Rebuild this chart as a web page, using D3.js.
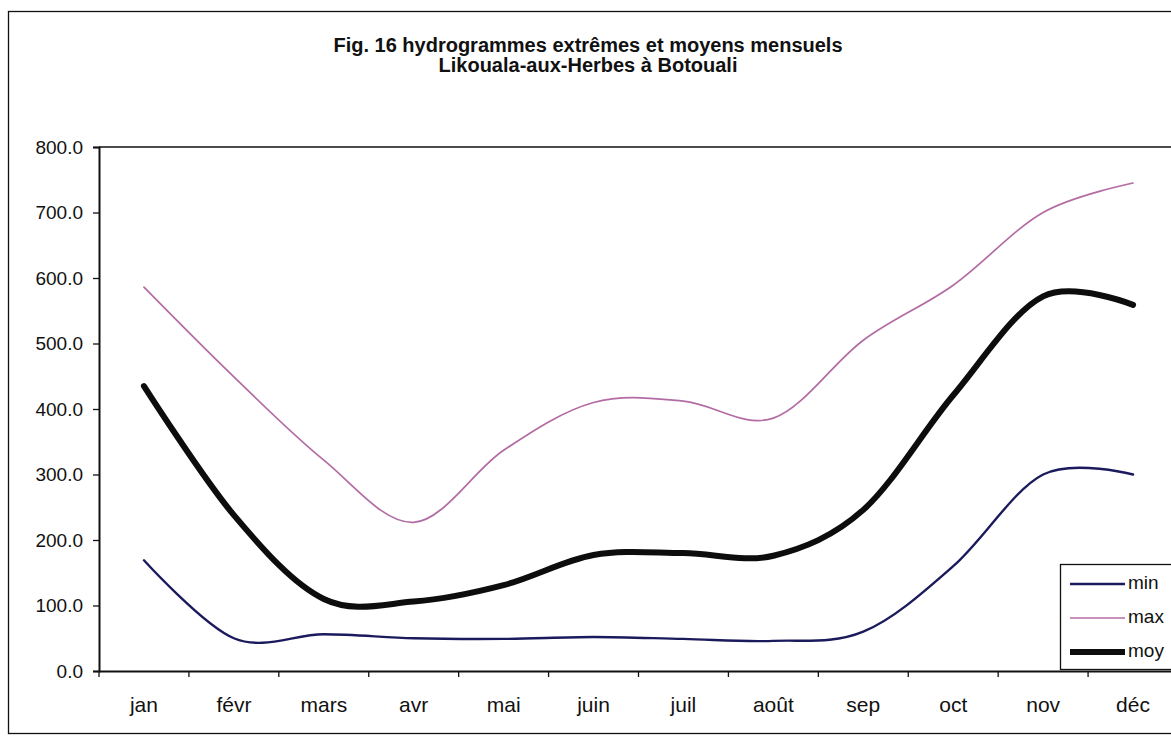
<!DOCTYPE html>
<html>
<head>
<meta charset="utf-8">
<script src="https://cdn.jsdelivr.net/npm/d3@7"></script>
<style>
  html, body { margin: 0; padding: 0; background: #fff; }
  svg { display: block; font-family: "Liberation Sans", Arial, sans-serif; }
</style>
</head>
<body>
<svg id="chart" width="1171" height="743"></svg>
<script>
const months = ["jan", "févr", "mars", "avr", "mai", "juin", "juil", "août", "sep", "oct", "nov", "déc"];
const minValues = [169, 50, 56, 50, 49, 52, 49, 46, 60, 160, 300, 300];
const maxValues = [586, 449, 322, 227, 337, 410, 412, 386, 505, 589, 700, 745];
const moyValues = [435, 238, 110, 106, 131, 177, 180, 176, 246, 421, 572, 559];
const seriesNames = ["min", "max", "moy"];
const yTicks = [0, 100, 200, 300, 400, 500, 600, 700, 800];
const titleLines = ["Fig. 16 hydrogrammes extrêmes et moyens mensuels", "Likouala-aux-Herbes à Botouali"];

const svg = d3.select("#chart");
const W = 1171, H = 743;
const plot = { left: 99, right: 1178, top: 147, bottom: 671 };
const FONT = "Liberation Sans, Arial, sans-serif";

// outer frame
svg.append("rect").attr("x", 8.5).attr("y", 11.5).attr("width", W + 20).attr("height", 722)
  .attr("fill", "#fff").attr("stroke", "#111").attr("stroke-width", 1.3);

// title
svg.append("g").selectAll("text").data(titleLines).join("text")
  .attr("x", 588).attr("y", (d, i) => 47 + i * 20)
  .attr("text-anchor", "middle").attr("dominant-baseline", "middle")
  .attr("font-weight", "bold").attr("font-size", 20).attr("fill", "#111")
  .text(d => d);

const x = d3.scaleBand().domain(months).range([plot.left, plot.right]);
const y = d3.scaleLinear().domain([0, 800]).range([plot.bottom, plot.top]);

// plot area border (top)
svg.append("line").attr("x1", plot.left).attr("x2", plot.right)
  .attr("y1", plot.top).attr("y2", plot.top).attr("stroke", "#111").attr("stroke-width", 1.5);

// y axis
const yAxis = svg.append("g").attr("transform", `translate(${plot.left},0)`)
  .call(d3.axisLeft(y).tickValues(yTicks).tickFormat(d3.format(".1f")).tickSize(6).tickPadding(10));
yAxis.select(".domain").attr("stroke", "#111").attr("stroke-width", 2);
yAxis.selectAll(".tick line").attr("stroke", "#111").attr("stroke-width", 1.3);
yAxis.selectAll("text").attr("font-size", 19).attr("fill", "#111").attr("font-family", FONT);

// x axis
const xAxis = svg.append("g").attr("transform", `translate(0,${plot.bottom})`)
  .call(d3.axisBottom(x).tickSize(0));
xAxis.select(".domain").attr("stroke", "#111").attr("stroke-width", 2);
xAxis.selectAll("text").attr("y", 34).attr("dy", "0.35em")
  .attr("font-size", 21).attr("fill", "#111").attr("font-family", FONT);
// category separator ticks
svg.append("g").selectAll("line").data(months).join("line")
  .attr("x1", d => x(d)).attr("x2", d => x(d))
  .attr("y1", plot.bottom).attr("y2", plot.bottom + 6)
  .attr("stroke", "#111").attr("stroke-width", 1.3);

const line = d3.line()
  .x((d, i) => x(months[i]) + x.bandwidth() / 2)
  .y(d => y(d))
  .curve(d3.curveCardinal.tension(0));

const series = [
  { name: "min", values: minValues, color: "#1b1a5c", width: 2.4 },
  { name: "max", values: maxValues, color: "#b36ca3", width: 1.7 },
  { name: "moy", values: moyValues, color: "#0d0d0d", width: 6 }
];

svg.append("g").selectAll("path").data(series).join("path")
  .attr("d", d => line(d.values))
  .attr("fill", "none").attr("stroke", d => d.color).attr("stroke-width", d => d.width)
  .attr("stroke-linejoin", "round").attr("stroke-linecap", "round");

// legend
const lg = svg.append("g");
lg.append("rect").attr("x", 1060.5).attr("y", 564.5).attr("width", 140).attr("height", 105)
  .attr("fill", "#fff").attr("stroke", "#111").attr("stroke-width", 1.3);
const items = lg.selectAll("g.item").data(series).join("g").attr("class", "item")
  .attr("transform", (d, i) => `translate(0,${584 + i * 34})`);
items.append("line").attr("x1", 1070).attr("x2", 1125).attr("y1", 0).attr("y2", 0)
  .attr("stroke", d => d.color).attr("stroke-width", d => d.width);
items.append("text").attr("x", 1128).attr("y", 0).attr("dominant-baseline", "middle")
  .attr("font-size", 19).attr("fill", "#111").text((d, i) => seriesNames[i]);
</script>
</body>
</html>
